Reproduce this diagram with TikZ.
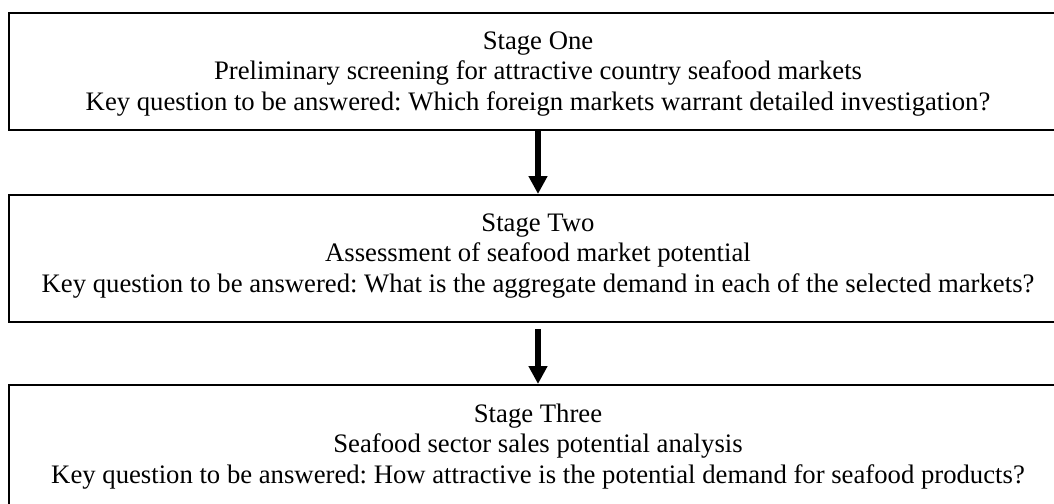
\documentclass[tikz,border=0pt]{standalone}
\usepackage{fontspec}
\setmainfont{Liberation Serif}
\usetikzlibrary{arrows.meta}
\frenchspacing
\begin{document}
\begin{tikzpicture}[x=1pt,y=-1pt,
  stagebox/.style={draw=black,line width=2pt,rectangle,inner sep=0pt},
  stagetext/.style={align=center,inner sep=0pt,anchor=base,font=\fontsize{26.7}{30.5}\selectfont\frenchspacing},
  flowarrow/.style={line width=6pt,-{Triangle[width=18pt,length=18pt]}}]
\useasboundingbox (0,0) rectangle (1054,503);
\clip (0,0) rectangle (1054,503);
\fill[white] (0,0) rectangle (1054,503);
\node[stagebox,minimum width=1058pt,minimum height=117pt] (s1) at (538,71.5) {};
\node[stagebox,minimum width=1058pt,minimum height=127pt] (s2) at (538,258.5) {};
\node[stagebox,minimum width=1058pt,minimum height=127pt] (s3) at (538,448.5) {};
\node[stagetext] (t1) at (538,110) {Stage One\\Preliminary screening for attractive country seafood markets\\Key question to be answered: Which foreign markets warrant detailed investigation?};
\node[stagetext] (t2) at (538,292) {Stage Two\\Assessment of seafood market potential\\Key question to be answered: What is the aggregate demand in each of the selected markets?};
\node[stagetext] (t3) at (538,483) {Stage Three\\Seafood sector sales potential analysis\\Key question to be answered: How attractive is the potential demand for seafood products?};
\draw[flowarrow] (s1.south) -- (s2.north);
\draw[flowarrow,shorten <=6pt] (s2.south) -- (s3.north);
\end{tikzpicture}
\end{document}
